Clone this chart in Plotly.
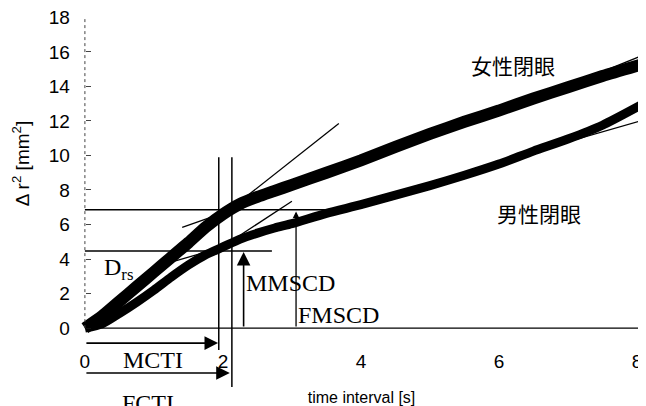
import plotly.graph_objects as go

# ---- data ----
time_female = [0, 0.25, 0.5, 0.75, 1.0, 1.25, 1.5, 1.75, 2.0, 2.25, 2.5, 2.75, 3.0,
               3.5, 4.0, 4.5, 5.0, 5.5, 6.0, 6.5, 7.0, 7.5, 8.05]
dr2_female = [0, 0.7, 1.55, 2.4, 3.25, 4.1, 4.95, 5.85, 6.6, 7.2, 7.6, 7.95, 8.3,
              9.0, 9.72, 10.5, 11.25, 11.95, 12.6, 13.3, 13.95, 14.6, 15.25]
time_male = [0, 0.25, 0.5, 0.75, 1.0, 1.25, 1.5, 1.75, 2.0, 2.25, 2.5, 2.75, 3.0,
             3.5, 4.0, 4.5, 5.0, 5.5, 6.0, 6.5, 7.0, 7.5, 8.05]
dr2_male = [0, 0.25, 0.85, 1.5, 2.2, 2.95, 3.65, 4.25, 4.7, 5.15, 5.5, 5.8, 6.05,
            6.65, 7.15, 7.7, 8.25, 8.85, 9.5, 10.25, 10.95, 11.75, 12.9]

x_ticks = [0, 2, 4, 6, 8]
y_ticks = [0, 2, 4, 6, 8, 10, 12, 14, 16, 18]

# characteristic values
MCTI = 1.94      # male critical time interval [s]
FCTI = 2.13      # female critical time interval [s]
MMSCD = 4.46     # male mean square critical displacement [mm^2]
FMSCD = 6.86     # female mean square critical displacement [mm^2]

# fitted / tangent line segments (t0, y0, t1, y1)
fit_lines = [
    (1.41, 5.84, 2.10, 6.80),   # female short-term fit
    (2.00, 6.55, 3.68, 11.85),  # female
    (1.15, 3.70, 1.75, 4.40),   # male short-term fit (Drs)
    (1.90, 4.46, 3.00, 7.35),   # male
    (7.50, 14.86, 8.10, 15.82), # female long-term fit
    (6.40, 10.10, 8.12, 12.08), # male long-term fit
]

fig = go.Figure()

fig.add_trace(go.Scatter(x=time_female, y=dr2_female, mode="lines",
                         line=dict(color="black", width=12, shape="spline", smoothing=0.6),
                         name="女性閉眼", showlegend=False))
fig.add_trace(go.Scatter(x=time_male, y=dr2_male, mode="lines",
                         line=dict(color="black", width=9, shape="spline", smoothing=0.6),
                         name="男性閉眼", showlegend=False))

shapes = []
thin = dict(color="black", width=1.3)
for (a, b, c, d) in fit_lines:
    shapes.append(dict(type="line", xref="x", yref="y", x0=a, y0=b, x1=c, y1=d, line=thin))
# horizontal critical displacement lines
shapes.append(dict(type="line", xref="x", yref="y", x0=0, y0=FMSCD, x1=3.52, y1=FMSCD,
                   line=dict(color="black", width=1.5)))
shapes.append(dict(type="line", xref="x", yref="y", x0=0, y0=MMSCD, x1=2.71, y1=MMSCD,
                   line=dict(color="black", width=1.5)))
# vertical critical time lines
shapes.append(dict(type="line", xref="x", yref="y", x0=MCTI, y0=9.9, x1=MCTI, y1=-1.27,
                   line=dict(color="black", width=1.5)))
shapes.append(dict(type="line", xref="x", yref="y", x0=FCTI, y0=9.9, x1=FCTI, y1=-3.41,
                   line=dict(color="black", width=1.5)))
# axis lines
shapes.append(dict(type="line", xref="x", yref="y", x0=0, y0=0, x1=8.12, y1=0,
                   line=dict(color="black", width=1.3)))
shapes.append(dict(type="line", xref="x", yref="y", x0=0, y0=0, x1=0, y1=18,
                   line=dict(color="#444444", width=1, dash="dot")))

annotations = []
def arrow(xt, yt, xs, ys, size=1.7, width=1.6):
    annotations.append(dict(x=xt, y=yt, ax=xs, ay=ys, xref="x", yref="y",
                            axref="x", ayref="y", text="", showarrow=True,
                            arrowhead=2, arrowsize=size, arrowwidth=width,
                            arrowcolor="black", standoff=0, startstandoff=0))

arrow(MCTI - 0.01, -0.87, 0, -0.87)
arrow(FCTI - 0.03, -2.6, 0, -2.6)
arrow(2.30, MMSCD - 0.05, 2.30, 0)
arrow(3.06, 6.75, 3.06, 0, size=1.0, width=1.3)

serif = dict(family="Liberation Serif", size=24, color="black")
def label(txt, x, y, font, xanchor="center", yanchor="middle", yshift=0):
    annotations.append(dict(x=x, y=y, xref="x", yref="y", text=txt, showarrow=False,
                            font=font, xanchor=xanchor, yanchor=yanchor, yshift=yshift))

label("MCTI", 0.99, -1.85, serif)
label("FCTI", 0.91, -3.8, serif, yanchor="top", yshift=6)
label("MMSCD", 2.30, 2.6, serif, xanchor="left")
label("FMSCD", 3.06, 0.75, serif, xanchor="left")
label("D<sub>rs</sub>", 0.25, 3.4, serif, xanchor="left")
cjk = dict(family="Noto Sans CJK JP", size=21, color="black")
label("女性閉眼", 6.2, 15.22, cjk)
label("男性閉眼", 6.58, 6.66, cjk)

# y-axis title
annotations.append(dict(x=-0.1, y=0.6127, xref="paper", yref="paper",
                        text="Δ r<sup>2</sup> [mm<sup>2</sup>]", textangle=-90,
                        showarrow=False, xanchor="center", yanchor="middle",
                        font=dict(family="Liberation Sans", size=19, color="black")))

fig.update_layout(
    width=646, height=406,
    margin=dict(l=70, r=9, t=9, b=20, autoexpand=False),
    paper_bgcolor="white", plot_bgcolor="white",
    showlegend=False,
    shapes=shapes, annotations=annotations,
    xaxis=dict(range=[-0.1, 8.117], tickvals=x_ticks, ticktext=[str(v) for v in x_ticks],
               showgrid=False, zeroline=False, showline=False, ticks="",
               anchor="free", position=0.122, ticklabeloverflow="allow",
               automargin=False,
               tickfont=dict(family="Liberation Sans", size=19, color="black"),
               title=dict(text="time interval [s]", standoff=20,
                          font=dict(family="Liberation Sans", size=16, color="black"))),
    yaxis=dict(range=[-3.817, 18.02], tickvals=y_ticks, ticktext=[str(v) for v in y_ticks],
               showgrid=False, zeroline=False, showline=False,
               ticks="inside", ticklen=5, tickcolor="#444444", tickwidth=1,
               anchor="free", position=0.0122, ticklabelstandoff=15,
               ticklabeloverflow="allow", automargin=False,
               tickfont=dict(family="Liberation Sans", size=19, color="black")),
)

fig.write_html("out.html")
